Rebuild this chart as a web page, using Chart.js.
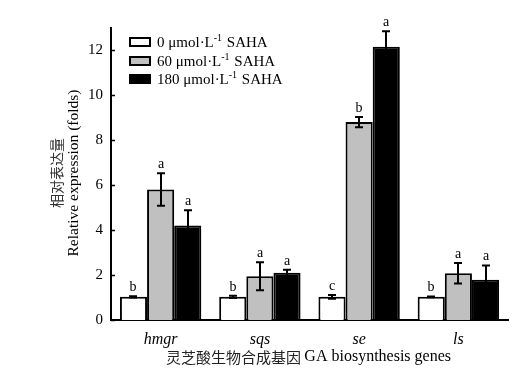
<!DOCTYPE html>
<html><head><meta charset="utf-8">
<script src="https://cdn.jsdelivr.net/npm/chart.js@4.4.1/dist/chart.umd.min.js"></script>
<style>html,body{margin:0;padding:0;background:#fff}#w{width:513px;height:381px}</style>
</head><body><div id="w"><canvas id="c" width="513" height="381"></canvas></div>
<script>
const genes = ['hmgr','sqs','se','ls'];
const seriesNames = ['0 μmol·L', '60 μmol·L', '180 μmol·L'];
const ctrl = [1.03, 1.03, 1.03, 1.03];
const ctrlErr = [0.03, 0.05, 0.08, 0.02];
const mid = [5.81, 1.95, 8.81, 2.08];
const midErr = [0.72, 0.62, 0.23, 0.46];
const high = [4.21, 2.10, 12.16, 1.79];
const highErr = [0.68, 0.14, 0.70, 0.64];
const ctrlLetters = ['b','b','c','b'];
const midLetters = ['a','a','b','a'];
const highLetters = ['a','a','a','a'];
const yTicks = [0,2,4,6,8,10,12];

const SERIF = '"Liberation Serif", "Times New Roman", serif';
const errs = [ctrlErr, midErr, highErr];
const lets = [ctrlLetters, midLetters, highLetters];
const fills = ['#ffffff', '#c0c0c0', '#000000'];

const overlay = {
  id: 'overlay',
  afterDatasetsDraw(chart) {
    const ctx = chart.ctx, y = chart.scales.y, area = chart.chartArea;
    ctx.save();
    // inward y ticks
    ctx.strokeStyle = '#000'; ctx.lineWidth = 1.5;
    yTicks.forEach(v => {
      const py = Math.round(y.getPixelForValue(v)) + 0.5;
      ctx.beginPath(); ctx.moveTo(area.left, py); ctx.lineTo(area.left + 4, py); ctx.stroke();
    });
    // error bars & letters
    ctx.lineWidth = 2;
    chart.data.datasets.forEach((ds, di) => {
      const meta = chart.getDatasetMeta(di);
      meta.data.forEach((bar, i) => {
        const v = ds.data[i], e = errs[di][i];
        const x = Math.round(bar.x);
        const yt = y.getPixelForValue(v + e), yb = y.getPixelForValue(v - e);
        ctx.strokeStyle = '#000';
        ctx.beginPath();
        ctx.moveTo(x, yt); ctx.lineTo(x, yb);
        ctx.moveTo(x - 4, yt); ctx.lineTo(x + 4, yt);
        ctx.moveTo(x - 4, yb); ctx.lineTo(x + 4, yb);
        ctx.stroke();
        ctx.fillStyle = '#000';
        ctx.font = '14px ' + SERIF;
        ctx.textAlign = 'center'; ctx.textBaseline = 'alphabetic';
        ctx.fillText(lets[di][i], x, yt - 5);
      });
    });
    // legend
    const rows = [42, 61, 79];
    rows.forEach((cy, k) => {
      ctx.fillStyle = fills[k];
      ctx.fillRect(129, cy - 5, 22, 10);
      ctx.strokeStyle = '#000'; ctx.lineWidth = 2;
      ctx.strokeRect(130, cy - 4, 20, 8);
      ctx.fillStyle = '#000';
      ctx.textAlign = 'left'; ctx.textBaseline = 'middle';
      ctx.font = '15px ' + SERIF;
      let tx = 157;
      ctx.fillText(seriesNames[k], tx, cy + 1);
      tx += ctx.measureText(seriesNames[k]).width;
      ctx.font = '10px ' + SERIF;
      ctx.fillText('-1', tx, cy - 4);
      tx += ctx.measureText('-1').width + 1;
      ctx.font = '15px ' + SERIF;
      ctx.fillText(' SAHA', tx, cy + 1);
    });
    // axis titles
    ctx.textAlign = 'left'; ctx.textBaseline = 'middle';
    const cjkPart = '灵芝酸生物合成基因 ', enPart = 'GA biosynthesis genes';
    ctx.font = '15px "Noto Sans CJK SC", serif';
    const w1 = ctx.measureText(cjkPart).width;
    ctx.font = '16px ' + SERIF;
    const w2 = ctx.measureText(enPart).width;
    const x0 = (area.left + area.right) / 2 - 1 - (w1 + w2) / 2;
    ctx.fillStyle = '#222';
    ctx.font = '15px "Noto Sans CJK SC", serif';
    ctx.fillText(cjkPart, x0, 357);
    ctx.fillStyle = '#000';
    ctx.font = '16px ' + SERIF;
    ctx.fillText(enPart, x0 + w1, 357);
    ctx.textAlign = 'center';
    ctx.translate(57, 173); ctx.rotate(-Math.PI / 2);
    ctx.fillStyle = '#333';
    ctx.font = '14px "Noto Sans CJK SC", serif';
    ctx.fillText('相对表达量', 0, 0);
    ctx.fillStyle = '#000';
    ctx.font = '15.5px ' + SERIF;
    ctx.fillText('Relative expression (folds)', 0, 17);
    ctx.restore();
  }
};

new Chart(document.getElementById('c'), {
  type: 'bar',
  data: {
    labels: genes,
    datasets: [
      { label: '0', data: ctrl, backgroundColor: fills[0] },
      { label: '60', data: mid, backgroundColor: fills[1] },
      { label: '180', data: high, backgroundColor: fills[2] }
    ].map(d => Object.assign(d, { borderColor: '#000', borderWidth: 2, categoryPercentage: 0.82, barPercentage: 1 }))
  },
  options: {
    responsive: false, animation: false,
    layout: { padding: { top: 28, right: 5, left: 0, bottom: 0 } },
    plugins: { legend: { display: false }, tooltip: { enabled: false } },
    scales: {
      x: {
        grid: { display: false, drawTicks: false },
        border: { display: true, color: '#000', width: 2 },
        ticks: { color: '#000', padding: 10, font: { family: SERIF, size: 16, style: 'italic' } },
        afterFit: s => { s.height = 61; }
      },
      y: {
        min: 0, max: 13,
        grid: { display: false, drawTicks: false },
        border: { display: true, color: '#000', width: 2 },
        afterBuildTicks: s => { s.ticks = yTicks.map(v => ({ value: v })); },
        ticks: { color: '#000', padding: 8, font: { family: SERIF, size: 15 } },
        afterFit: s => { s.width = 111; }
      }
    }
  },
  plugins: [overlay]
});
</script></body></html>
